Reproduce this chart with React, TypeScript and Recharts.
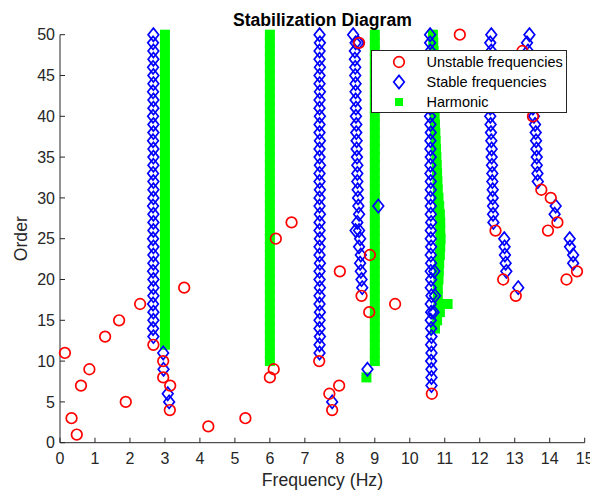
import React from 'react';
import { ScatterChart, Scatter, XAxis, YAxis, Legend } from 'recharts';

const FONT = '"Liberation Sans", Arial, sans-serif';
const INK = '#262626';

const xTicks = [0, 1, 2, 3, 4, 5, 6, 7, 8, 9, 10, 11, 12, 13, 14, 15];
const yTicks = [0, 5, 10, 15, 20, 25, 30, 35, 40, 45, 50];

// [frequency (Hz), model order]
const unstable: [number, number][] = [
  [0.14, 11], [0.33, 3], [0.48, 1], [0.6, 7], [0.84, 9], [1.29, 13], [1.69, 15], [1.88, 5],
  [2.29, 17], [2.67, 12], [2.95, 10], [2.95, 8], [3.15, 7], [3.14, 4], [3.55, 19], [4.24, 2],
  [5.3, 3], [6.0, 8], [6.11, 9], [6.17, 25], [6.62, 27], [7.41, 10], [7.7, 6], [7.98, 7],
  [7.78, 4], [8.0, 21], [8.62, 18], [8.86, 23], [8.84, 16], [8.55, 49], [9.58, 17], [10.63, 6],
  [11.43, 50], [12.45, 26], [12.67, 20], [13.03, 18], [13.22, 48], [13.52, 40], [13.76, 31],
  [14.03, 30], [14.22, 27], [13.95, 26], [14.48, 20], [14.78, 21],
];

const stable: [number, number][] = [
  // around 2.7 Hz
  [2.67, 50], [2.66, 49], [2.67, 48], [2.67, 47], [2.66, 46], [2.67, 45], [2.67, 44], [2.66, 43],
  [2.67, 42], [2.67, 41], [2.66, 40], [2.67, 39], [2.67, 38], [2.66, 37], [2.67, 36], [2.67, 35],
  [2.67, 34], [2.66, 33], [2.67, 32], [2.67, 31], [2.67, 30], [2.66, 29], [2.67, 28], [2.67, 27],
  [2.67, 26], [2.66, 25], [2.67, 24], [2.67, 23], [2.67, 22], [2.66, 21], [2.67, 20], [2.67, 19],
  [2.67, 18], [2.66, 17], [2.67, 16], [2.67, 15], [2.66, 14], [2.67, 13],
  [2.95, 11], [2.96, 9], [3.08, 6], [3.12, 5],
  // around 7.4 Hz
  [7.42, 50], [7.43, 49], [7.42, 48], [7.42, 47], [7.43, 46], [7.42, 45], [7.42, 44], [7.43, 43],
  [7.42, 42], [7.42, 41], [7.43, 40], [7.42, 39], [7.42, 38], [7.43, 37], [7.42, 36], [7.42, 35],
  [7.43, 34], [7.42, 33], [7.42, 32], [7.43, 31], [7.42, 30], [7.42, 29], [7.43, 28], [7.42, 27],
  [7.42, 26], [7.43, 25], [7.42, 24], [7.42, 23], [7.43, 22], [7.42, 21], [7.42, 20], [7.43, 19],
  [7.42, 18], [7.42, 17], [7.43, 16], [7.42, 15], [7.42, 14], [7.43, 13], [7.42, 12], [7.42, 11],
  [7.78, 5],
  // around 8.5 Hz
  [8.38, 50], [8.45, 49], [8.53, 49], [8.43, 48], [8.43, 47], [8.44, 46], [8.44, 45], [8.45, 44],
  [8.45, 43], [8.45, 42], [8.46, 41], [8.46, 40], [8.47, 39], [8.47, 38], [8.48, 37], [8.48, 36],
  [8.49, 35], [8.5, 34], [8.5, 33], [8.5, 32], [8.51, 31], [8.52, 30], [8.53, 29], [8.55, 28],
  [8.5, 27], [8.55, 26], [8.45, 26], [8.58, 25], [8.55, 24], [8.6, 23], [8.58, 22], [8.6, 21],
  [8.62, 20], [8.64, 19],
  [8.79, 9], [9.1, 29],
  // around 10.6 Hz
  [10.58, 50], [10.58, 49], [10.59, 48], [10.58, 47], [10.58, 46], [10.59, 45], [10.58, 44],
  [10.58, 43], [10.59, 42], [10.58, 41], [10.58, 40], [10.59, 39], [10.6, 38], [10.59, 37],
  [10.59, 36], [10.6, 35], [10.59, 34], [10.59, 33], [10.6, 32], [10.6, 31], [10.59, 30],
  [10.6, 29], [10.6, 28], [10.61, 27], [10.6, 26], [10.6, 25], [10.61, 24], [10.6, 23],
  [10.61, 22], [10.6, 21], [10.7, 21], [10.61, 20], [10.6, 19], [10.62, 18], [10.72, 18],
  [10.6, 17], [10.61, 16], [10.68, 16], [10.6, 15], [10.61, 14], [10.62, 13], [10.61, 12],
  [10.62, 11], [10.61, 10], [10.62, 9], [10.62, 8], [10.62, 7],
  // around 12.4 Hz
  [12.33, 50], [12.3, 49], [12.33, 48], [12.32, 47], [12.31, 46], [12.31, 45], [12.3, 44],
  [12.3, 43], [12.3, 42], [12.3, 41], [12.3, 40], [12.31, 39], [12.32, 38], [12.33, 37],
  [12.34, 36], [12.34, 35], [12.35, 34], [12.36, 33], [12.36, 32], [12.37, 31], [12.37, 30],
  [12.38, 29], [12.38, 28], [12.39, 27],
  [12.7, 25], [12.71, 24], [12.72, 23], [12.74, 22], [12.76, 21], [13.1, 19],
  // around 13.5 Hz
  [13.42, 50], [13.35, 49], [13.38, 48], [13.4, 47], [13.42, 46], [13.44, 45], [13.46, 44],
  [13.48, 43], [13.5, 42], [13.52, 41], [13.55, 40], [13.58, 39], [13.6, 38], [13.61, 37],
  [13.62, 36], [13.63, 35], [13.63, 34], [13.65, 33], [13.66, 32],
  [14.17, 29], [14.14, 28],
  // around 14.6 Hz
  [14.57, 25], [14.58, 24], [14.67, 23], [14.67, 22],
];

const harmonic: [number, number][] = [
  // 3 Hz
  [3, 50], [3, 49], [3, 48], [3, 47], [3, 46], [3, 45], [3, 44], [3, 43], [3, 42], [3, 41],
  [3, 40], [3, 39], [3, 38], [3, 37], [3, 36], [3, 35], [3, 34], [3, 33], [3, 32], [3, 31],
  [3, 30], [3, 29], [3, 28], [3, 27], [3, 26], [3, 25], [3, 24], [3, 23], [3, 22], [3, 21],
  [3, 20], [3, 19], [3, 18], [3, 17], [3, 16], [3, 15], [3, 14], [3, 13], [3, 12],
  // 6 Hz
  [6, 50], [6, 49], [6, 48], [6, 47], [6, 46], [6, 45], [6, 44], [6, 43], [6, 42], [6, 41],
  [6, 40], [6, 39], [6, 38], [6, 37], [6, 36], [6, 35], [6, 34], [6, 33], [6, 32], [6, 31],
  [6, 30], [6, 29], [6, 28], [6, 27], [6, 26], [6, 25], [6, 24], [6, 23], [6, 22], [6, 21],
  [6, 20], [6, 19], [6, 18], [6, 17], [6, 16], [6, 15], [6, 14], [6, 13], [6, 12], [6, 11],
  [6, 10],
  // 9 Hz
  [9, 50], [9, 49], [9, 48], [9, 47], [9, 46], [9, 45], [9, 44], [9, 43], [9, 42], [9, 41],
  [9, 40], [9, 39], [9, 38], [9, 37], [9, 36], [9, 35], [9, 34], [9, 33], [9, 32], [9, 31],
  [9, 30], [9, 29], [9, 28], [9, 27], [9, 26], [9, 25], [9, 24], [9, 23], [9, 22], [9, 21],
  [9, 20], [9, 19], [9, 18], [9, 17], [9, 16], [9, 15], [9, 14], [9, 13], [9, 12], [9, 11],
  [9, 10], [8.76, 8],
  // ~10.8 Hz
  [10.66, 50], [10.67, 49], [10.68, 48], [10.68, 47], [10.69, 46], [10.69, 45], [10.69, 44],
  [10.7, 43], [10.7, 42], [10.7, 41], [10.71, 40], [10.72, 39], [10.73, 38], [10.74, 37],
  [10.75, 36], [10.76, 35], [10.77, 34], [10.78, 33], [10.79, 32], [10.8, 31], [10.82, 30],
  [10.84, 29], [10.86, 28], [10.87, 27], [10.87, 26], [10.88, 25], [10.87, 24], [10.86, 23],
  [10.84, 22], [10.83, 21], [10.82, 20], [10.8, 19], [10.8, 18], [10.82, 17], [11.08, 17],
  [10.86, 16], [10.78, 15], [10.72, 14],
];

const toPoints = (rows: [number, number][]) => rows.map(([freq, order]) => ({ freq, order }));

const CircleMark = (p: any) => (
  <circle cx={p.cx} cy={p.cy} r={5.3} fill="none" stroke="#ff0000" strokeWidth={1.7} />
);
const DiamondMark = (p: any) => (
  <path
    d={`M${p.cx},${p.cy - 6.6}L${p.cx + 5.3},${p.cy}L${p.cx},${p.cy + 6.6}L${p.cx - 5.3},${p.cy}Z`}
    fill="none"
    stroke="#0000ff"
    strokeWidth={1.7}
  />
);
const SquareMark = (p: any) => <rect x={p.cx - 5} y={p.cy - 5} width={10} height={10} fill="#00ff00" />;

const legendRows = ['Unstable frequencies', 'Stable frequencies', 'Harmonic'];

const renderLegend = () => (
  <svg width={196} height={63} style={{ display: 'block' }}>
    <rect x={0.5} y={0.5} width={195} height={62} fill="#fff" stroke={INK} strokeWidth={1} />
    {legendRows.map((label, i) => {
      const y = 12 + i * 20;
      return (
        <g key={label}>
          {i === 0 && <circle cx={28} cy={y} r={5.3} fill="none" stroke="#ff0000" strokeWidth={1.7} />}
          {i === 1 && (
            <path d={`M28,${y - 6.6}L33.3,${y}L28,${y + 6.6}L22.7,${y}Z`} fill="none" stroke="#0000ff" strokeWidth={1.7} />
          )}
          {i === 2 && <rect x={24} y={y - 4} width={8} height={8} fill="#00ff00" />}
          <text x={55.5} y={y + 5} fontFamily={FONT} fontSize={14.5} fill="#000">
            {label}
          </text>
        </g>
      );
    })}
  </svg>
);

export default function App() {
  return (
    <div style={{ position: 'absolute', left: 0, top: 0, width: 590, height: 494, background: '#fff' }}>
      <ScatterChart width={590} height={494} margin={{ top: 34.7, right: 5.3, bottom: 21.3, left: 30 }}>
        <XAxis
          dataKey="freq"
          type="number"
          domain={[0, 15]}
          ticks={xTicks}
          interval={0}
          height={30}
          tickSize={-5}
          tickMargin={15}
          stroke={INK}
          tick={{ fill: INK, fontSize: 16, fontFamily: FONT }}
        />
        <YAxis
          dataKey="order"
          type="number"
          domain={[0, 50]}
          ticks={yTicks}
          interval={0}
          width={30}
          tickSize={-5}
          tickMargin={10}
          stroke={INK}
          tick={{ fill: INK, fontSize: 16, fontFamily: FONT }}
        />
        <Legend
          layout="vertical"
          align="center"
          verticalAlign="middle"
          content={renderLegend}
          wrapperStyle={{ left: 371, top: 50, width: 196, height: 63 }}
        />
        <Scatter name="Harmonic" data={toPoints(harmonic)} shape={SquareMark} isAnimationActive={false} />
        <Scatter name="Stable frequencies" data={toPoints(stable)} shape={DiamondMark} isAnimationActive={false} />
        <Scatter name="Unstable frequencies" data={toPoints(unstable)} shape={CircleMark} isAnimationActive={false} />
      </ScatterChart>
      <svg width={590} height={494} style={{ position: 'absolute', left: 0, top: 0, pointerEvents: 'none' }}>
        <text x={322.4} y={26} textAnchor="middle" fontFamily={FONT} fontSize={17.6} fontWeight="bold" fill="#000">
          Stabilization Diagram
        </text>
        <text x={322.4} y={486} textAnchor="middle" fontFamily={FONT} fontSize={17.6} fill={INK}>
          Frequency (Hz)
        </text>
        <text x={27} y={238.7} textAnchor="middle" fontFamily={FONT} fontSize={17.6} fill={INK} transform="rotate(-90 27 238.7)">
          Order
        </text>
      </svg>
    </div>
  );
}
